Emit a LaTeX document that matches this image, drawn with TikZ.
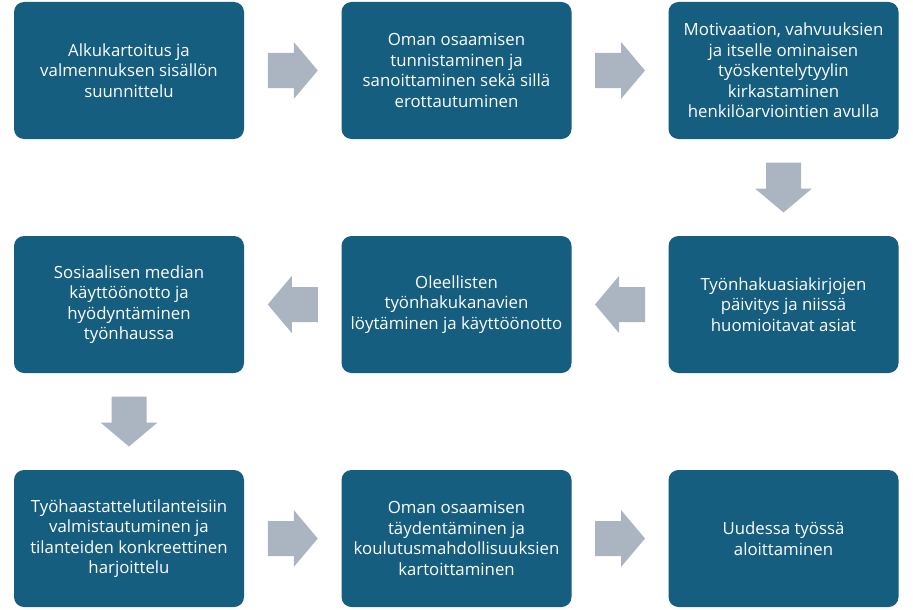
\documentclass[tikz,border=0pt]{standalone}
\usepackage{fontspec}
\setmainfont{Open Sans}
\usetikzlibrary{calc}
\definecolor{boxblue}{RGB}{22,94,128}
\definecolor{arrowgray}{RGB}{170,181,193}
\tikzset{
  stepbox/.style={fill=boxblue, rounded corners=10pt, minimum width=230pt, minimum height=137pt,
    inner sep=0pt, text=white, align=center, font=\fontsize{16.8}{20.5}\selectfont},
  blockarrow/.style={fill=arrowgray}
}
\newcommand{\flowarrow}[3]{%
  \path ($(#1)!0.5!(#2)$) coordinate (#1-#2-m);
  \fill[blockarrow, shift={(#1-#2-m)}, rotate=#3]
    (-25,-17.5) -- (1,-17.5) -- (1,-28.5) -- (25,0) -- (1,28.5) -- (1,17.5) -- (-25,17.5) -- cycle;
}
\begin{document}
\begin{tikzpicture}[x=1pt,y=-1pt]
\useasboundingbox (0,0) rectangle (913,610);
\node[stepbox] (a1) at (129,70.5) {Alkukartoitus ja\\valmennuksen sisällön\\suunnittelu};
\node[stepbox] (a2) at (456.5,70.5) {Oman osaamisen\\tunnistaminen ja\\sanoittaminen sekä sillä\\erottautuminen};
\node[stepbox] (a3) at (783.5,70.5) {Motivaation, vahvuuksien\\ja itselle ominaisen\\työskentelytyylin\\kirkastaminen\\henkilöarviointien avulla};
\node[stepbox] (b3) at (783.5,304.5) {Työnhakuasiakirjojen\\päivitys ja niissä\\huomioitavat asiat};
\node[stepbox] (b2) at (456.5,304.5) {Oleellisten\\työnhakukanavien\\löytäminen ja käyttöönotto};
\node[stepbox] (b1) at (129,304.5) {Sosiaalisen median\\käyttöönotto ja\\hyödyntäminen\\työnhaussa};
\node[stepbox] (c1) at (129,538.5) {Työhaastattelutilanteisiin\\valmistautuminen ja\\tilanteiden konkreettinen\\harjoittelu};
\node[stepbox] (c2) at (456.5,538.5) {Oman osaamisen\\täydentäminen ja\\koulutusmahdollisuuksien\\kartoittaminen};
\node[stepbox] (c3) at (783.5,538.5) {Uudessa työssä\\aloittaminen};
\flowarrow{a1}{a2}{0}
\flowarrow{a2}{a3}{0}
\flowarrow{a3}{b3}{-90}
\flowarrow{b3}{b2}{180}
\flowarrow{b2}{b1}{180}
\flowarrow{b1}{c1}{-90}
\flowarrow{c1}{c2}{0}
\flowarrow{c2}{c3}{0}
\end{tikzpicture}
\end{document}
